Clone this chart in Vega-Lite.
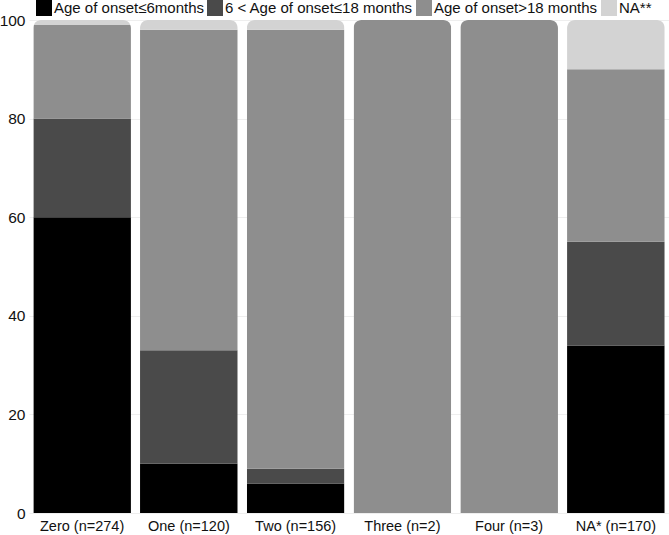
{
  "$schema": "https://vega.github.io/schema/vega-lite/v6.json",
  "width": 640,
  "height": 493,
  "autosize": "none",
  "padding": {"left": 29, "top": 20, "right": 0, "bottom": 22},
  "background": "white",
  "config": {"view": {"stroke": null}, "font": "Liberation Sans"},
  "data": {"values": [
    {"group": "Zero (n=274)", "cat": "Age of onset≤6months", "o": 1, "v": 60},
    {"group": "Zero (n=274)", "cat": "6 < Age of onset≤18 months", "o": 2, "v": 20},
    {"group": "Zero (n=274)", "cat": "Age of onset>18 months", "o": 3, "v": 19},
    {"group": "Zero (n=274)", "cat": "NA**", "o": 4, "v": 1},
    {"group": "One (n=120)", "cat": "Age of onset≤6months", "o": 1, "v": 10},
    {"group": "One (n=120)", "cat": "6 < Age of onset≤18 months", "o": 2, "v": 23},
    {"group": "One (n=120)", "cat": "Age of onset>18 months", "o": 3, "v": 65},
    {"group": "One (n=120)", "cat": "NA**", "o": 4, "v": 2},
    {"group": "Two (n=156)", "cat": "Age of onset≤6months", "o": 1, "v": 6},
    {"group": "Two (n=156)", "cat": "6 < Age of onset≤18 months", "o": 2, "v": 3},
    {"group": "Two (n=156)", "cat": "Age of onset>18 months", "o": 3, "v": 89},
    {"group": "Two (n=156)", "cat": "NA**", "o": 4, "v": 2},
    {"group": "Three (n=2)", "cat": "Age of onset>18 months", "o": 3, "v": 100},
    {"group": "Four (n=3)", "cat": "Age of onset>18 months", "o": 3, "v": 100},
    {"group": "NA* (n=170)", "cat": "Age of onset≤6months", "o": 1, "v": 34},
    {"group": "NA* (n=170)", "cat": "6 < Age of onset≤18 months", "o": 2, "v": 21},
    {"group": "NA* (n=170)", "cat": "Age of onset>18 months", "o": 3, "v": 35},
    {"group": "NA* (n=170)", "cat": "NA**", "o": 4, "v": 10}
  ]},
  "mark": {"type": "bar", "cornerRadiusEnd": 8},
  "encoding": {
    "x": {
      "field": "group", "type": "nominal", "sort": null,
      "scale": {"paddingInner": 0.085, "paddingOuter": 0.04},
      "axis": {"title": null, "labelAngle": 0, "labelFontSize": 14.5, "labelColor": "#111", "domain": false, "ticks": false, "labelPadding": 6}
    },
    "y": {
      "field": "v", "type": "quantitative", "stack": "zero",
      "scale": {"domain": [0, 100], "nice": false},
      "axis": {"title": null, "values": [0, 20, 40, 60, 80, 100], "labelFontSize": 15.5, "labelColor": "#111", "domain": false, "ticks": false, "gridColor": "#eeeeee", "labelPadding": 4}
    },
    "color": {
      "field": "cat", "type": "nominal",
      "scale": {
        "domain": ["Age of onset≤6months", "6 < Age of onset≤18 months", "Age of onset>18 months", "NA**"],
        "range": ["#000000", "#4a4a4a", "#8e8e8e", "#d3d3d3"]
      },
      "legend": {
        "title": null, "orient": "none", "direction": "horizontal",
        "legendX": 7, "legendY": -20,
        "symbolType": "square", "symbolSize": 256, "symbolStrokeWidth": 0,
        "labelFontSize": 15, "labelColor": "#111", "labelLimit": 0, "columnPadding": 3, "labelOffset": 2
      }
    },
    "order": {"field": "o", "type": "quantitative"}
  }
}
